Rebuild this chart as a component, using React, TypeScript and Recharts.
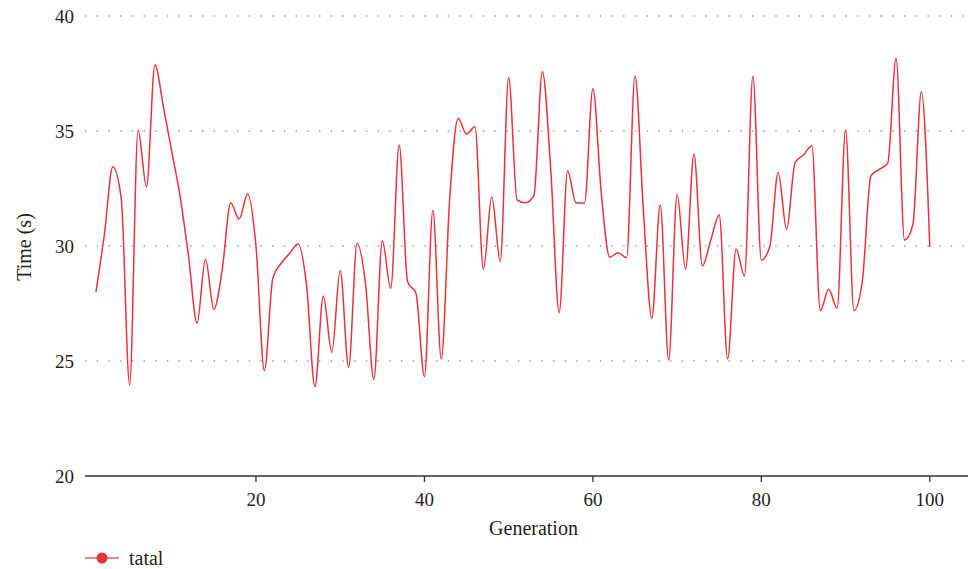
import React from 'react';
import { LineChart, Line, XAxis, YAxis, CartesianGrid, Legend, Label } from 'recharts';

const generations: number[] = Array.from({ length: 100 }, (_, i) => i + 1);

const totalTimes: number[] = [
  28.0, 30.5, 33.45, 32.07, 23.96, 35.04, 32.58, 37.87, 36.07, 34.1,
  32.14, 29.54, 26.64, 29.42, 27.25, 29.0, 31.88, 31.17, 32.26, 30.0,
  24.58, 28.6, 29.25, 29.68, 30.09, 28.3, 23.88, 27.83, 25.38, 28.93,
  24.72, 30.12, 28.38, 24.2, 30.23, 28.16, 34.39, 28.45, 27.94, 24.32,
  31.54, 25.09, 32.07, 35.55, 34.87, 35.19, 28.99, 32.14, 29.32, 37.33,
  32.0, 31.88, 32.2, 37.58, 33.3, 27.1, 33.26, 31.88, 31.86, 36.84,
  32.29, 29.51, 29.71, 29.49, 37.39, 31.5, 26.86, 31.78, 25.04, 32.25,
  28.99, 34.0, 29.13, 30.26, 31.35, 25.09, 29.87, 28.7, 37.39, 29.39,
  29.97, 33.2, 30.72, 33.62, 33.96, 34.35, 27.19, 28.12, 27.29, 35.04,
  27.19, 28.5, 33.04, 33.33, 33.59, 38.16, 30.26, 30.94, 36.71, 29.97,
];

const xTicks: number[] = [20, 40, 60, 80, 100];
const yTicks: number[] = [20, 25, 30, 35, 40];
const gridValues: number[] = [25, 30, 35, 40];
const seriesName = 'tatal';

const data = generations.map((g, i) => ({ generation: g, tatal: totalTimes[i] }));

const FONT = '"Liberation Serif", "DejaVu Serif", serif';
const RED = '#e8323c';
const TEXT = '#231f20';

const LegendContent = () => (
  <div style={{ display: 'flex', alignItems: 'center', height: 22, fontFamily: FONT, fontSize: 20, color: TEXT }}>
    <svg width={36} height={22} style={{ display: 'block' }}>
      <line x1={0} y1={11} x2={34} y2={11} stroke={RED} strokeOpacity={0.8} strokeWidth={1.6} />
      <circle cx={17} cy={11} r={5.5} fill={RED} />
    </svg>
    <span style={{ marginLeft: 8, lineHeight: '22px' }}>{seriesName}</span>
  </div>
);

export default function App() {
  return (
    <div style={{ position: 'absolute', left: 0, top: 0, width: 968, height: 569, overflow: 'hidden', background: '#fff' }}>
      <LineChart
        width={982}
        height={569}
        data={data}
        margin={{ top: 16, right: 0, bottom: 0, left: 0 }}
      >
        <CartesianGrid
          vertical={false}
          horizontalValues={gridValues}
          stroke="#666"
          strokeWidth={1.2}
          strokeDasharray="1.4 10.3"
        />
        <XAxis
          dataKey="generation"
          type="number"
          domain={[-0.3, 106.2]}
          allowDataOverflow
          ticks={xTicks}
          height={71}
          tickSize={6}
          tickMargin={11}
          axisLine={{ stroke: '#333', strokeWidth: 1.3 }}
          tickLine={{ stroke: '#333', strokeWidth: 1.3 }}
          tick={{ fill: TEXT, fontSize: 19, fontFamily: FONT }}
        >
          <Label value="Generation" position="insideBottom" offset={12} fill={TEXT} fontSize={20} fontFamily={FONT} />
        </XAxis>
        <YAxis
          type="number"
          domain={[20, 40]}
          ticks={yTicks}
          width={85}
          axisLine={false}
          tickLine={false}
          tickSize={6}
          tickMargin={5}
          tick={{ fill: TEXT, fontSize: 19, fontFamily: FONT }}
        >
          <Label
            content={() => (
              <text
                x={24}
                y={247}
                transform="rotate(-90 24 247)"
                textAnchor="middle"
                dominantBaseline="central"
                fill={TEXT}
                fontSize={20}
                fontFamily={FONT}
              >
                Time (s)
              </text>
            )}
          />
        </YAxis>
        <Legend
          verticalAlign="bottom"
          align="left"
          content={<LegendContent />}
          wrapperStyle={{ left: 85, width: 'auto' }}
        />
        <Line
          type="monotone"
          dataKey="tatal"
          name={seriesName}
          stroke={RED}
          strokeWidth={1.5}
          dot={false}
          activeDot={false}
          isAnimationActive={false}
        />
      </LineChart>
    </div>
  );
}
